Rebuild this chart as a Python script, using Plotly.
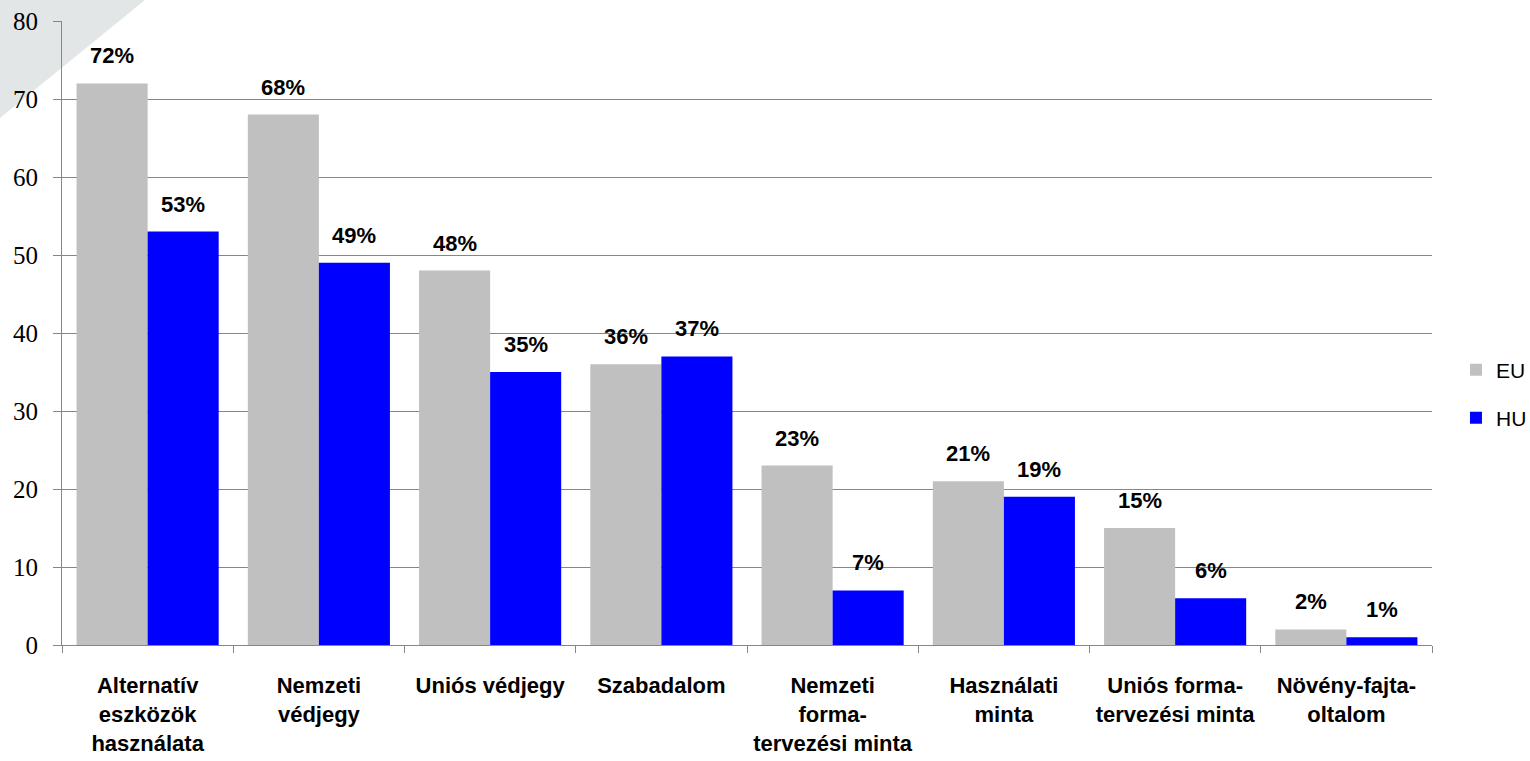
import plotly.graph_objects as go

categories = [
    "Alternatív<br>eszközök<br>használata",
    "Nemzeti<br>védjegy",
    "Uniós védjegy",
    "Szabadalom",
    "Nemzeti<br>forma-<br>tervezési minta",
    "Használati<br>minta",
    "Uniós forma-<br>tervezési minta",
    "Növény-fajta-<br>oltalom",
]
eu_values = [72, 68, 48, 36, 23, 21, 15, 2]
hu_values = [53, 49, 35, 37, 7, 19, 6, 1]
y_ticks = [0, 10, 20, 30, 40, 50, 60, 70, 80]

SANS = "Liberation Sans, Arial, sans-serif"
SERIF = "Liberation Serif, Times New Roman, serif"
BARGAP = 0.17

fig = go.Figure()
fig.add_trace(go.Bar(
    name="EU", x=categories, y=eu_values,
    marker=dict(color="#C0C0C0", line=dict(width=0)),
    legend="legend", showlegend=True,
))
fig.add_trace(go.Bar(
    name="HU", x=categories, y=hu_values,
    marker=dict(color="#0000FF", line=dict(width=0)),
    legend="legend2", showlegend=True,
))

# data labels placed above each bar via the category scale
half = (1 - BARGAP) / 4
annotations = []
for i, (e, h) in enumerate(zip(eu_values, hu_values)):
    for xpos, val in ((i - half, e), (i + half, h)):
        annotations.append(dict(
            x=xpos, y=val, xref="x", yref="y",
            text="<b>%d%%</b>" % val, showarrow=False,
            yanchor="bottom", xanchor="center", yshift=13,
            font=dict(family=SANS, size=22, color="black"),
        ))

W, H = 1530, 761
L, R, T, B = 62, 98, 21, 116

fig.update_layout(
    width=W, height=H,
    margin=dict(l=L, r=R, t=T, b=B, autoexpand=False),
    barmode="group", bargap=BARGAP, bargroupgap=0,
    plot_bgcolor="white", paper_bgcolor="white",
    showlegend=True,
    legend=dict(
        x=1.0175, y=0.4407, xanchor="left", yanchor="middle",
        font=dict(family=SANS, size=21, color="black"),
        bgcolor="rgba(0,0,0,0)",
    ),
    legend2=dict(
        x=1.0175, y=0.3638, xanchor="left", yanchor="middle",
        font=dict(family=SANS, size=21, color="black"),
        bgcolor="rgba(0,0,0,0)",
    ),
    xaxis=dict(
        type="category", tickson="boundaries", automargin=False,
        ticks="outside", ticklen=7, tickcolor="#868686", tickwidth=1,
        showline=True, linecolor="#868686", linewidth=1,
        showgrid=False,
        tickfont=dict(family=SANS, size=22, color="black", weight="bold"),
        tickangle=0, ticklabelstandoff=21,
    ),
    yaxis=dict(
        range=[0, 80], tickvals=y_ticks, automargin=False,
        ticks="outside", ticklen=8, tickcolor="#868686", tickwidth=1,
        showline=True, linecolor="#868686", linewidth=1,
        showgrid=True, gridcolor="#868686", gridwidth=1,
        zeroline=False,
        tickfont=dict(family=SERIF, size=25, color="black"),
        ticklabelstandoff=10,
    ),
    annotations=annotations,
    shapes=[dict(
        type="path", xref="paper", yref="paper", layer="below",
        path="M %f %f L %f %f L %f %f Z" % (
            (0 - L) / (W - L - R), (H - B - 0) / (H - T - B),
            (145 - L) / (W - L - R), (H - B - 0) / (H - T - B),
            (0 - L) / (W - L - R), (H - B - 118) / (H - T - B),
        ),
        fillcolor="#E3E6E6", line=dict(width=0),
    )],
)

fig.write_html("out.html", config={"displayModeBar": False},
               post_script="document.body.style.margin='0';")
